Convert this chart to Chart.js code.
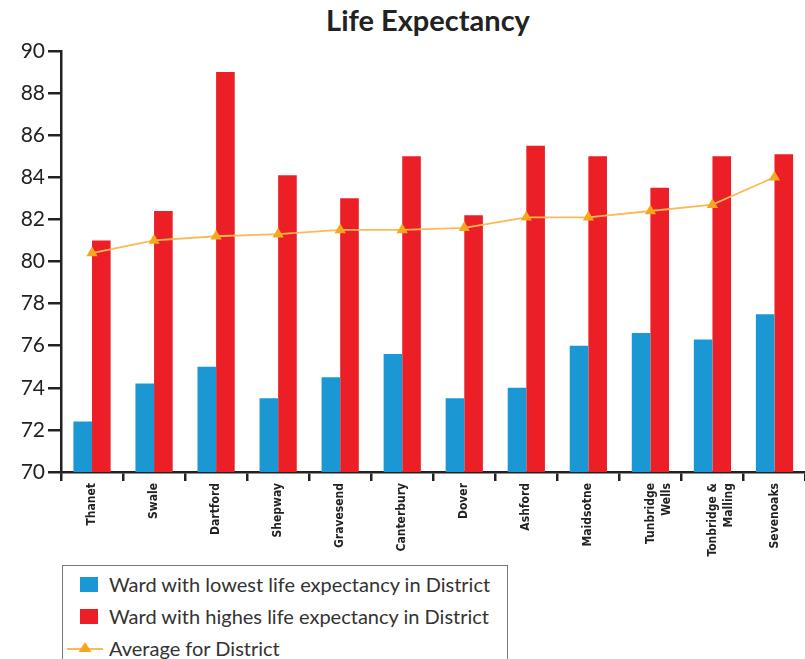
<!DOCTYPE html>
<html>
<head>
<meta charset="utf-8">
<script src="https://cdn.jsdelivr.net/npm/chart.js@4.4.1/dist/chart.umd.min.js"></script>
<style>
  body { margin: 0; background: #fff; overflow: hidden; }
  #wrap { position: relative; width: 812px; height: 659px; }
  #box { position: absolute; left: 0; top: 0; width: 812px; height: 560px; }
  #title {
    position: absolute; left: 0; width: 856px; top: 2px; text-align: center;
    font: bold 29px Lato, "Open Sans", sans-serif; color: #222;
  }
  #legend {
    position: absolute; left: 62px; top: 565px; width: 444px; height: 120px;
    border: 1.5px solid #777; border-bottom: none;
    font: 20px Lato, "Open Sans", sans-serif; color: #333;
  }
  .item { position: absolute; left: 0; height: 20px; }
  .item span.txt { position: absolute; left: 46px; top: 0; white-space: nowrap; line-height: 20px; }
</style>
</head>
<body>
<div id="wrap">
  <div id="title">Life Expectancy</div>
  <div id="box"><canvas id="c"></canvas></div>
  <div id="legend"></div>
</div>
<script>
// districts and values
const districts = [
  "Thanet", "Swale", "Dartford", "Shepway", "Gravesend", "Canterbury",
  "Dover", "Ashford", "Maidsotne", ["Tunbridge", "Wells"], ["Tonbridge &", "Malling"], "Sevenoaks"
];
const lowest  = [72.4, 74.2, 75.0, 73.5, 74.5, 75.6, 73.5, 74.0, 76.0, 76.6, 76.3, 77.5];
const highest = [81.0, 82.4, 89.0, 84.1, 83.0, 85.0, 82.2, 85.5, 85.0, 83.5, 85.0, 85.1];
const average = [80.4, 81.0, 81.2, 81.3, 81.5, 81.5, 81.6, 82.1, 82.1, 82.4, 82.7, 84.0];
const seriesNames = [
  "Ward with lowest life expectancy in District",
  "Ward with highes life expectancy in District",
  "Average for District"
];

const blue = "#1B98D3", red = "#EC1F27", orange = "#F7A71E";

const ctx = document.getElementById("c").getContext("2d");
const chart = new Chart(ctx, {
  type: "bar",
  data: {
    labels: districts,
    datasets: [
      { type: "line", label: seriesNames[2], data: average, order: 0,
        borderColor: "#FBBA55", borderWidth: 1.8, pointStyle: "triangle",
        pointRadius: 6.5, pointBackgroundColor: orange, pointBorderWidth: 0, tension: 0 },
      { label: seriesNames[0], data: lowest, backgroundColor: blue, order: 1,
        categoryPercentage: 0.6, barPercentage: 1.0 },
      { label: seriesNames[1], data: highest, backgroundColor: red, order: 1,
        categoryPercentage: 0.6, barPercentage: 1.0 }
    ]
  },
  options: {
    responsive: true,
    maintainAspectRatio: false,
    animation: false,
    layout: { padding: { top: 51, right: 0, left: 0, bottom: 0 } },
    plugins: { legend: { display: false }, title: { display: false }, tooltip: { enabled: false } },
    scales: {
      x: {
        grid: { display: true, drawOnChartArea: false, drawTicks: true, tickLength: 9,
                color: "#222", lineWidth: 2.5 },
        border: { display: true, color: "#222", width: 2.5 },
        ticks: { minRotation: 90, maxRotation: 90, autoSkip: false, padding: 2, color: "#222",
                 font: { family: "'DejaVu Sans Condensed', sans-serif", size: 12, weight: "bold", lineHeight: 1.4 } },
        afterFit(s) { s.height = 88; }
      },
      y: {
        min: 70, max: 90,
        grid: { display: true, drawOnChartArea: false, drawTicks: true, tickLength: 13,
                color: "#222", lineWidth: 2.5 },
        border: { display: true, color: "#222", width: 2.5 },
        ticks: { stepSize: 2, padding: 3, color: "#222",
                 font: { family: "Lato, 'Open Sans', sans-serif", size: 21 } },
        afterFit(s) { s.width = 61; }
      }
    }
  }
});

// legend drawn as html, from the series names
const legend = document.getElementById("legend");
const swatch = [
  { kind: "box", color: blue },
  { kind: "box", color: red },
  { kind: "line", color: orange }
];
[1, 2, 0].forEach(function (di, i) {
  const row = document.createElement("div");
  row.className = "item";
  row.style.top = (8 + i * 32) + "px";
  row.style.width = "440px";
  const sw = swatch[i];
  let mark;
  if (sw.kind === "box") {
    mark = '<span style="position:absolute;left:17px;top:3px;width:18px;height:15px;background:' + sw.color + '"></span>';
  } else {
    mark = '<svg style="position:absolute;left:4px;top:0" width="38" height="20">' +
      '<line x1="0" y1="11" x2="36" y2="11" stroke="#FBBA55" stroke-width="1.8"/>' +
      '<polygon points="18,4 24.5,14 11.5,14" fill="' + orange + '"/></svg>';
  }
  row.innerHTML = mark + '<span class="txt">' + chart.data.datasets[di].label + '</span>';
  legend.appendChild(row);
});
</script>
</body>
</html>
